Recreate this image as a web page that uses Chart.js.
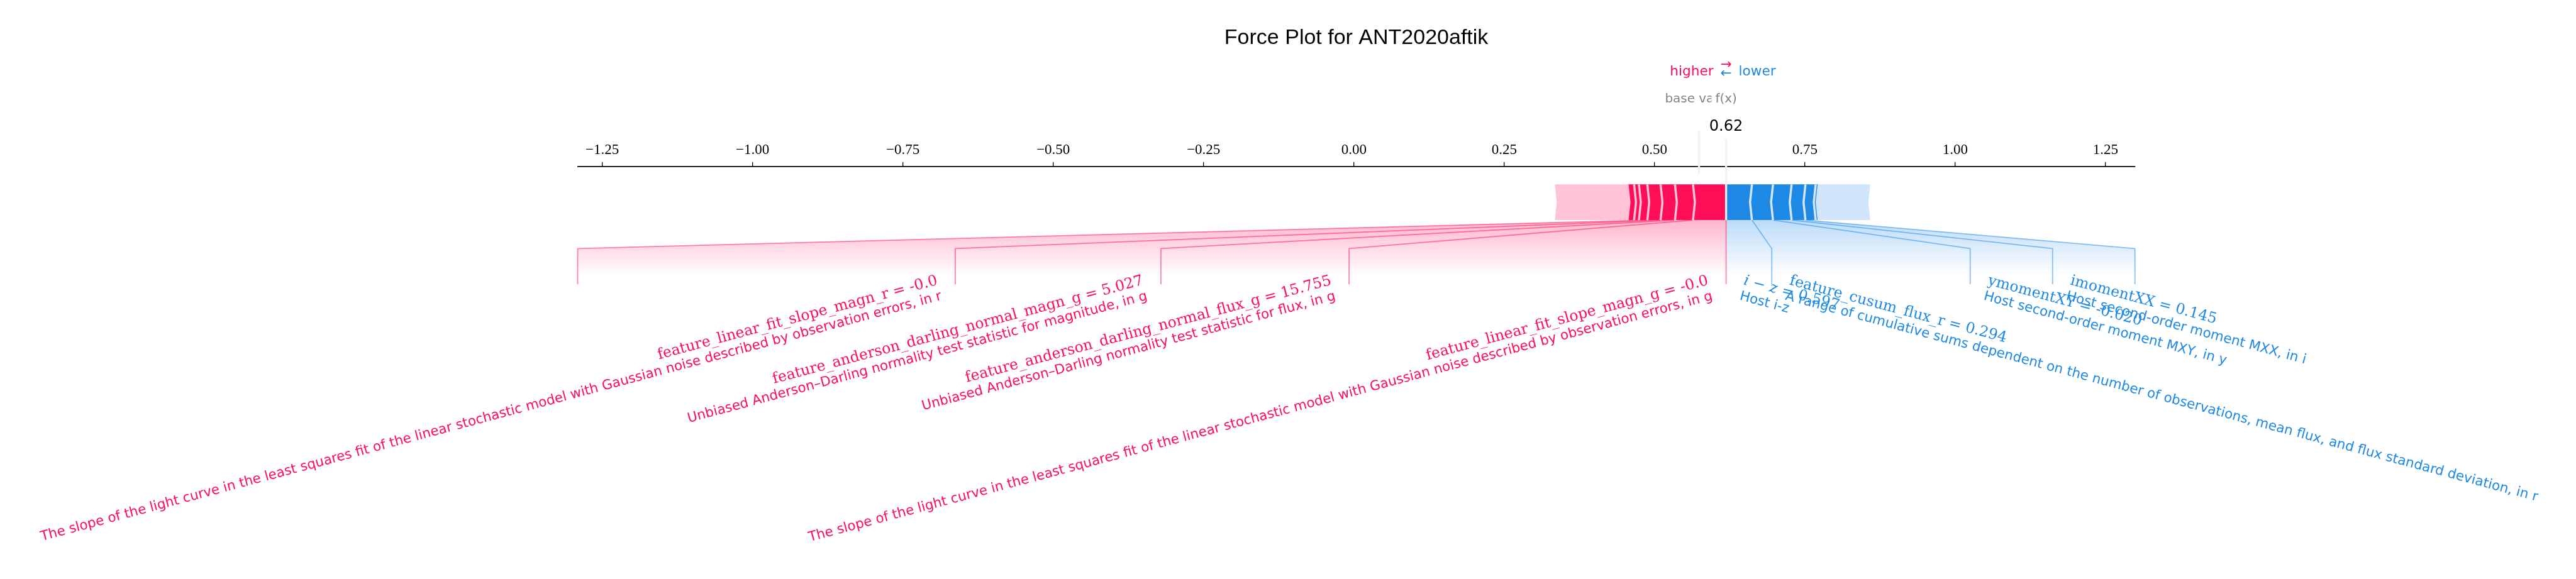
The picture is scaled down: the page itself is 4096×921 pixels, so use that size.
<!DOCTYPE html>
<html>
<head>
<meta charset="utf-8">
<title>Force Plot for ANT2020aftik</title>
<script src="https://cdn.jsdelivr.net/npm/chart.js@4.4.1/dist/chart.umd.min.js"></script>
<style>
  html, body { margin: 0; padding: 0; background: #fff; }
  #wrap { width: 4096px; height: 921px; }
</style>
</head>
<body>
<div id="wrap"><canvas id="force" width="4096" height="921"></canvas></div>
<script>
// values
const plotTitle = 'Force Plot for ANT2020aftik';
const outName = 'f(x)';
const baseValue = 0.574;

// features pushing the prediction higher (red), largest first from f(x)
const posNames = ['feature_linear_fit_slope_magn_g', 'feature_anderson_darling_normal_flux_g',
                  'feature_anderson_darling_normal_magn_g', 'feature_linear_fit_slope_magn_r'];
const posFeatureValues = ['-0.0', '15.755', '5.027', '-0.0'];
const posDescs = [
  'The slope of the light curve in the least squares fit of the linear stochastic model with Gaussian noise described by observation errors, in g',
  'Unbiased Anderson\u2013Darling normality test statistic for flux, in g',
  'Unbiased Anderson\u2013Darling normality test statistic for magnitude, in g',
  'The slope of the light curve in the least squares fit of the linear stochastic model with Gaussian noise described by observation errors, in r'
];
const posEffects = [0.055, 0.030, 0.024, 0.022, 0.014, 0.008, 0.011];
const posOther = 0.119;
const posLabelEnds = [-0.008, -0.321, -0.663, -1.291];

// features pushing the prediction lower (blue)
const negNames = ['i \u2212 z', 'feature_cusum_flux_r', 'ymomentXY', 'imomentXX'];
const negFeatureValues = ['0.597', '0.294', '-0.020', '0.145'];
const negDescs = [
  'Host i-z',
  'A range of cumulative sums dependent on the number of observations, mean flux, and flux standard deviation, in r',
  'Host second-order moment MXY, in y',
  'Host second-order moment MXX, in i'
];
const negEffects = [0.043, 0.035, 0.031, 0.023, 0.017, 0.005];
const negOther = 0.084;
const negLabelEnds = [0.695, 1.025, 1.162, 1.299];
const mathNames = ['i \u2212 z'];

const tickValues = [-1.25, -1.0, -0.75, -0.5, -0.25, 0, 0.25, 0.5, 0.75, 1.0, 1.25];

// ---- styling ----
const RED = '#FF0D57', RED_LIGHT = '#FFC3D5';
const BLUE = '#1E88E5', BLUE_LIGHT = '#D1E6FA';
const PT = 150 / 72 * 0.798;   // points -> window pixels
const BAR_H = 0.1;
const NAME_FONT = 23.5, DESC_FONT = 21.4, LINE_GAP = 25;
const SERIF = "'DejaVu Serif', serif";
const SANS = "'DejaVu Sans', sans-serif";

const sum = a => a.reduce((s, v) => s + v, 0);
const totalPos = sum(posEffects) + posOther;
const totalNeg = sum(negEffects) + negOther;
const outValue = baseValue + totalPos - totalNeg;
const offsetText = (totalPos + totalNeg) * 0.04;

// separator indent, as shap does it from the un-extended axis limits
const padX = 0.2 * Math.max(totalPos, totalNeg);
const minX0 = Math.min(outValue - totalPos, baseValue) - padX;
const maxX0 = Math.max(outValue + totalNeg, baseValue) + padX;
const indent = (maxX0 - minX0) / 200;

function poly(ctx, xs, ys, pts) {
  ctx.beginPath();
  pts.forEach((p, i) => {
    const px = xs.getPixelForValue(p[0]), py = ys.getPixelForValue(p[1]);
    if (i === 0) ctx.moveTo(px, py); else ctx.lineTo(px, py);
  });
}

function drawBars(ctx, xs, ys, isPos) {
  const effects = isPos ? posEffects : negEffects;
  const all = effects.concat([isPos ? posOther : negOther]);
  const dark = isPos ? RED : BLUE, light = isPos ? RED_LIGHT : BLUE_LIGHT;
  const w = BAR_H;
  let pre = outValue;
  const seps = [];
  all.forEach((eff, i) => {
    let left, right, ind, sepPos;
    if (isPos) { left = pre - eff; right = pre; pre = left; ind = indent; sepPos = left; }
    else { left = pre; right = pre + eff; pre = right; ind = -indent; sepPos = right; }
    let pts;
    if (i === 0) {
      pts = isPos ? [[left, 0], [right, 0], [right, w], [left, w], [left + ind, w / 2]]
                  : [[right, 0], [left, 0], [left, w], [right, w], [right + ind, w / 2]];
    } else {
      pts = [[left, 0], [right, 0], [right + ind * 0.9, w / 2], [right, w], [left, w], [left + ind * 0.9, w / 2]];
    }
    poly(ctx, xs, ys, pts);
    ctx.closePath();
    ctx.fillStyle = i < effects.length ? dark : light;
    ctx.fill();
    seps.push([sepPos, ind]);
  });
  ctx.strokeStyle = light;
  ctx.lineWidth = 3.5;
  ctx.lineJoin = 'miter';
  seps.forEach(([p, ind]) => {
    poly(ctx, xs, ys, [[p, 0], [p + ind, w / 2], [p, w]]);
    ctx.stroke();
  });
}

function nameRuns(name, value) {
  const runs = [];
  if (mathNames.includes(name)) {
    name.split(/([A-Za-z]+)/).filter(t => t).forEach(t => runs.push({ t, it: /[A-Za-z]/.test(t) }));
  } else {
    runs.push({ t: name, it: false });
  }
  runs.push({ t: ' = ' + value, it: false });
  return runs;
}

function drawRotatedLabel(ctx, ax, ay, runs, desc, color, isPos) {
  const th = 15 * Math.PI / 180, c = Math.cos(th), s = Math.sin(th);
  let w1 = 0;
  runs.forEach(r => {
    ctx.font = (r.it ? 'italic ' : '') + NAME_FONT + 'px ' + SERIF;
    r.w = ctx.measureText(r.t).width;
    w1 += r.w;
  });
  ctx.font = DESC_FONT + 'px ' + SANS;
  const w2 = ctx.measureText(desc).width;
  const W = Math.max(w1, w2);
  const H = LINE_GAP + DESC_FONT * 0.95;
  let ox, oy;
  if (isPos) { ox = ax - (W * c + H * s); oy = ay + W * s; }
  else { ox = ax + H * s; oy = ay; }
  ctx.save();
  ctx.translate(ox, oy);
  ctx.rotate(isPos ? -th : th);
  ctx.fillStyle = color;
  ctx.textAlign = 'left';
  ctx.textBaseline = 'alphabetic';
  const b1 = NAME_FONT * 0.76;
  let u = isPos ? W - w1 : 0;
  runs.forEach(r => {
    ctx.font = (r.it ? 'italic ' : '') + NAME_FONT + 'px ' + SERIF;
    ctx.fillText(r.t, u, b1);
    u += r.w;
  });
  ctx.font = DESC_FONT + 'px ' + SANS;
  ctx.fillText(desc, isPos ? W - w2 : 0, b1 + LINE_GAP);
  ctx.restore();
}

function drawLabels(ctx, xs, ys, isPos) {
  const effects = isPos ? posEffects : negEffects;
  const names = isPos ? posNames : negNames;
  const vals = isPos ? posFeatureValues : negFeatureValues;
  const descs = isPos ? posDescs : negDescs;
  const ends = isPos ? posLabelEnds : negLabelEnds;
  const sign = isPos ? 1 : -1;
  const rgb = isPos ? '255,13,87' : '30,136,229';
  const color = isPos ? RED : BLUE;

  // feature bounds where each labelled feature starts
  const bounds = [];
  let acc = outValue;
  names.forEach((n, i) => { acc -= sign * effects[i]; bounds.push(acc); });
  const preLast = bounds[bounds.length - 1], endLast = ends[ends.length - 1];

  // shading below the bar
  ctx.save();
  poly(ctx, xs, ys, [[outValue, 0], [preLast, 0], [endLast, -0.08], [endLast, -0.2], [outValue, -0.2]]);
  ctx.closePath();
  const y0 = ys.getPixelForValue(0), y1 = ys.getPixelForValue(-0.155);
  const g = ctx.createLinearGradient(0, y0, 0, y1);
  g.addColorStop(0, 'rgba(' + rgb + ',0.3)');
  g.addColorStop(1, 'rgba(' + rgb + ',0)');
  ctx.fillStyle = g;
  ctx.fill();
  ctx.restore();

  // leader lines
  ctx.strokeStyle = 'rgba(' + rgb + ',0.5)';
  ctx.lineWidth = 1.8;
  ctx.lineJoin = 'round';
  if (isPos) {
    poly(ctx, xs, ys, [[outValue, 0], [outValue, -0.18]]);
    ctx.stroke();
  }
  names.forEach((n, i) => {
    poly(ctx, xs, ys, [[bounds[i], 0], [ends[i], -0.08], [ends[i], -0.18]]);
    ctx.stroke();
  });

  // texts
  names.forEach((n, i) => {
    const start = i === 0 ? outValue : ends[i - 1];
    const ax = xs.getPixelForValue(start - sign * offsetText);
    const ay = ys.getPixelForValue(-0.15);
    drawRotatedLabel(ctx, ax, ay, nameRuns(n, vals[i]), descs[i], color, isPos);
  });
}

function boxedText(ctx, text, x, y, font, color, align) {
  ctx.font = font;
  const m = ctx.measureText(text);
  const size = parseFloat(font.match(/([\d.]+)px/)[1]);
  const pad = 0.3 * size;
  const left = align === 'center' ? x - m.width / 2 : x;
  ctx.fillStyle = '#fff';
  ctx.fillRect(left - pad, y - size * 0.8 - pad, m.width + 2 * pad, size * 1.04 + 2 * pad);
  ctx.fillStyle = color;
  ctx.textAlign = align;
  ctx.textBaseline = 'alphabetic';
  ctx.fillText(text, x, y);
}

const forcePlugin = {
  id: 'forcePlot',
  afterDraw(chart) {
    const ctx = chart.ctx;
    const xs = chart.scales.x, ys = chart.scales.y;
    const X = v => xs.getPixelForValue(v), Y = v => ys.getPixelForValue(v);
    ctx.save();

    drawLabels(ctx, xs, ys, false);
    drawLabels(ctx, xs, ys, true);
    drawBars(ctx, xs, ys, false);
    drawBars(ctx, xs, ys, true);

    // higher / lower legend
    const legendFont = (13 * PT) + 'px ' + SANS;
    ctx.font = legendFont;
    ctx.textBaseline = 'alphabetic';
    ctx.fillStyle = RED; ctx.textAlign = 'right';
    ctx.fillText('higher', X(outValue - offsetText), Y(0.405));
    ctx.fillStyle = BLUE; ctx.textAlign = 'left';
    ctx.fillText('lower', X(outValue + offsetText), Y(0.405));
    ctx.textAlign = 'center';
    ctx.fillStyle = BLUE;
    ctx.fillText('\u2190', X(outValue), Y(0.4));
    ctx.fillStyle = RED;
    ctx.fillText('\u2192', X(outValue), Y(0.425));

    // base value
    ctx.strokeStyle = '#F2F2F2';
    ctx.lineWidth = 2 * PT;
    poly(ctx, xs, ys, [[baseValue, 0.13], [baseValue, 0.25]]);
    ctx.stroke();
    boxedText(ctx, 'base value', X(baseValue), Y(0.33), (12 * PT) + 'px ' + SANS, 'rgba(0,0,0,0.5)', 'center');

    // output value
    poly(ctx, xs, ys, [[outValue, 0], [outValue, 0.24]]);
    ctx.strokeStyle = '#F2F2F2';
    ctx.stroke();
    boxedText(ctx, outValue.toFixed(2), X(outValue), Y(0.25), (14.5 * PT) + 'px ' + SANS, '#000', 'center');
    boxedText(ctx, outName, X(outValue), Y(0.33), (12 * PT) + 'px ' + SANS, 'rgba(0,0,0,0.5)', 'center');

    ctx.restore();
  }
};

new Chart(document.getElementById('force'), {
  type: 'scatter',
  data: { datasets: [] },
  options: {
    responsive: false,
    devicePixelRatio: 1,
    animation: false,
    layout: { padding: { left: 918.5, right: 701.3, top: 20, bottom: 287.4 } },
    plugins: {
      legend: { display: false },
      tooltip: { enabled: false },
      title: {
        display: true,
        text: plotTitle,
        color: '#000',
        font: { family: "'Liberation Sans', sans-serif", size: 34, weight: 'normal' },
        padding: { top: 20, bottom: 124.2 }
      }
    },
    scales: {
      x: {
        type: 'linear',
        position: 'top',
        min: Math.min(...posLabelEnds),
        max: Math.max(...negLabelEnds),
        afterBuildTicks: scale => { scale.ticks = tickValues.map(v => ({ value: v })); },
        afterFit: scale => { scale.height = 60; },
        grid: { display: true, drawOnChartArea: false, drawTicks: true, tickLength: 7.2, color: '#000', lineWidth: 1.3 },
        border: { display: true, color: '#000', width: 1.7 },
        ticks: {
          autoSkip: false,
          maxRotation: 0,
          padding: 4.6,
          color: '#000',
          font: { family: "'Liberation Serif', serif", size: 23 },
          callback: v => v.toFixed(2).replace('-', '\u2212')
        }
      },
      y: { display: false, min: -0.5, max: 0.15 }
    }
  },
  plugins: [forcePlugin]
});
</script>
</body>
</html>
